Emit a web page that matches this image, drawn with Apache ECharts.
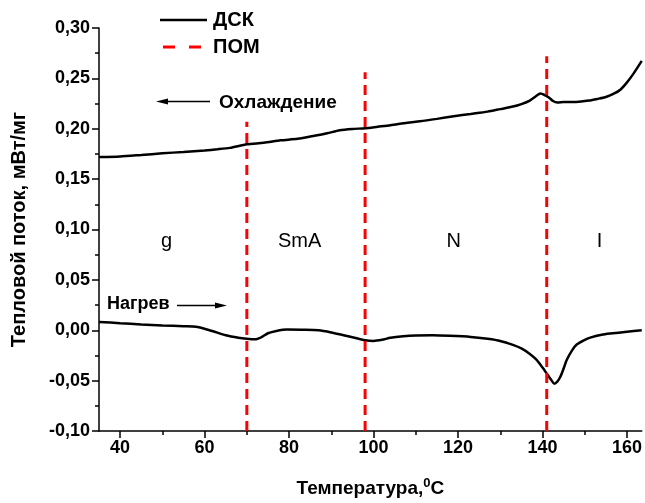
<!DOCTYPE html>
<html>
<head>
<meta charset="utf-8">
<script src="https://cdn.jsdelivr.net/npm/echarts@6/dist/echarts.min.js"></script>
<style>html,body{margin:0;padding:0;background:#fff}#c{width:645px;height:503px}</style>
</head>
<body>
<div id="c"></div>
<script>
// ---- data ----
var coolT = [35, 40, 45, 50, 55, 60, 63, 66, 70, 74, 78, 82, 86, 89, 92, 95, 98, 101, 104, 108, 111, 115, 119, 123, 127, 130, 133, 135, 137, 138.5, 139.5, 140.5, 141.5, 142.5, 143.5, 145, 148, 151, 153, 155, 157, 158.5, 160, 161.5, 163.5];
var coolQ = [0.172, 0.1725, 0.174, 0.1756, 0.177, 0.1785, 0.1796, 0.181, 0.1846, 0.186, 0.1885, 0.190, 0.193, 0.1955, 0.1985, 0.1998, 0.2005, 0.202, 0.2035, 0.206, 0.2074, 0.2098, 0.2124, 0.2147, 0.217, 0.2195, 0.222, 0.2245, 0.228, 0.2325, 0.235, 0.2335, 0.231, 0.2275, 0.226, 0.2265, 0.2266, 0.228, 0.2296, 0.2315, 0.235, 0.239, 0.246, 0.2545, 0.2674];
var heatT = [35, 40, 45, 50, 55, 58, 60, 62, 65, 68, 70, 72, 73.5, 75, 77, 79.5, 83, 87, 90, 94, 96.5, 98, 100, 102, 104, 107, 110, 114, 118, 123, 127, 130, 133, 135, 137, 138.5, 140, 141, 142, 142.8, 143.5, 144.2, 145, 145.7, 147, 148.1, 150, 151.3, 154, 156, 160, 163.5];
var heatQ = [0.0083, 0.007, 0.0058, 0.0048, 0.004, 0.0035, 0.0015, -0.001, -0.005, -0.0075, -0.0085, -0.009, -0.0068, -0.003, -0.0007, 0.0007, 0.0005, 0, -0.0022, -0.006, -0.0085, -0.010, -0.0106, -0.0095, -0.0075, -0.006, -0.0052, -0.005, -0.0055, -0.0066, -0.0085, -0.0106, -0.0145, -0.018, -0.0235, -0.029, -0.037, -0.043, -0.049, -0.053, -0.051, -0.0464, -0.038, -0.0298, -0.020, -0.0142, -0.0095, -0.0073, -0.0045, -0.0033, -0.0015, 0];
var pomT = [70, 98, 141];
var pomTop = [0.207, 0.256, 0.272];
var phaseNames = ['g', 'SmA', 'N', 'I'];
var phaseT = [51, 82.5, 119, 153.5];
var phaseQ = [0.088, 0.088, 0.088, 0.088];
var legendNames = ['ДСК', 'ПОМ'];
var xMajorTicks = [40, 60, 80, 100, 120, 140, 160];
var xMinorTicks = [50, 70, 90, 110, 130, 150];
var xMin = 35, xMax = 163.5;
var yMin = -0.10, yMax = 0.30, yStep = 0.05;

function zip(a, b) { return a.map(function (v, i) { return [v, b[i]]; }); }

var FONT = 'Arial, "Liberation Sans", sans-serif';
var chart = echarts.init(document.getElementById('c'), null, { renderer: 'canvas' });

var series = [
  { name: legendNames[0], type: 'line', data: zip(coolT, coolQ), symbol: 'none', smooth: 0.25,
    lineStyle: { color: '#000', width: 2.5 }, itemStyle: { color: '#000' }, z: 3 },
  { name: legendNames[0], type: 'line', data: zip(heatT, heatQ), symbol: 'none', smooth: 0.25,
    lineStyle: { color: '#000', width: 2.5 }, itemStyle: { color: '#000' }, z: 3 }
];
pomT.forEach(function (t, i) {
  series.push({ name: legendNames[1], type: 'line', data: [[t, yMin], [t, pomTop[i]]], symbol: 'none',
    lineStyle: { color: '#ff0000', width: 3, type: [10, 6] }, itemStyle: { color: '#ff0000' }, z: 4 });
});

chart.setOption({
  animation: false,
  backgroundColor: '#fff',
  grid: { left: 99, right: 3, top: 28, bottom: 72 },
  xAxis: [{
    type: 'value', min: xMin, max: xMax, position: 'bottom',
    name: '{b|Температура,}{s|0}{b|C}', nameLocation: 'middle', nameGap: 46,
    nameTextStyle: { rich: {
      b: { fontFamily: FONT, fontWeight: 'bold', fontSize: 19, color: '#000', verticalAlign: 'bottom' },
      s: { fontFamily: FONT, fontWeight: 'bold', fontSize: 13, color: '#000', verticalAlign: 'top', padding: [0, 0, 8, 0] }
    } },
    axisLine: { show: true, onZero: false, lineStyle: { color: '#000', width: 1.5 } },
    axisTick: { show: true, inside: false, length: 7, customValues: xMajorTicks, lineStyle: { color: '#000', width: 1.5 } },
    axisLabel: { customValues: xMajorTicks, margin: 8, fontFamily: FONT, fontWeight: 'bold', fontSize: 18, color: '#000' },
    splitLine: { show: false }
  }, {
    type: 'value', min: xMin, max: xMax, position: 'bottom',
    axisLine: { show: false, onZero: false },
    axisTick: { show: true, inside: false, length: 4, customValues: xMinorTicks, lineStyle: { color: '#000', width: 1.5 } },
    axisLabel: { show: false },
    splitLine: { show: false }
  }],
  yAxis: {
    type: 'value', min: yMin, max: yMax, interval: yStep,
    name: 'Тепловой поток, мВт/мг', nameLocation: 'middle', nameGap: 70,
    nameTextStyle: { fontFamily: FONT, fontWeight: 'bold', fontSize: 20, color: '#000' },
    axisLine: { show: true, lineStyle: { color: '#000', width: 1.5 } },
    axisTick: { show: true, inside: false, length: 7, lineStyle: { color: '#000', width: 1.5 } },
    minorTick: { show: true, splitNumber: 2, length: 4, lineStyle: { color: '#000', width: 1.5 } },
    axisLabel: { margin: 9, fontFamily: FONT, fontWeight: 'bold', fontSize: 18, color: '#000',
      formatter: function (v) { return v.toFixed(2).replace('.', ','); } },
    splitLine: { show: false }
  },
  series: series
});

// annotations
var graphics = [];
phaseNames.forEach(function (n, i) {
  var p = chart.convertToPixel({ xAxisIndex: 0, yAxisIndex: 0 }, [phaseT[i], phaseQ[i]]);
  graphics.push({ type: 'text', x: p[0], y: p[1], style: { text: n, fill: '#000',
    font: 'normal 20px ' + FONT, textAlign: 'center', textVerticalAlign: 'middle' } });
});
// legend
graphics.push({ type: 'line', shape: { x1: 160, y1: 20, x2: 207, y2: 20 }, style: { stroke: '#000', lineWidth: 2.5 } });
graphics.push({ type: 'text', x: 213, y: 20, style: { text: legendNames[0], fill: '#000',
  font: 'bold 20px ' + FONT, textAlign: 'left', textVerticalAlign: 'middle' } });
graphics.push({ type: 'line', shape: { x1: 163, y1: 47, x2: 201, y2: 47 }, style: { stroke: '#ff0000', lineWidth: 3, lineDash: [12, 14] } });
graphics.push({ type: 'text', x: 213, y: 47, style: { text: legendNames[1], fill: '#000',
  font: 'bold 20px ' + FONT, textAlign: 'left', textVerticalAlign: 'middle' } });
// Охлаждение arrow + text
graphics.push({ type: 'line', shape: { x1: 166, y1: 101.5, x2: 210, y2: 101.5 }, style: { stroke: '#000', lineWidth: 1.5 } });
graphics.push({ type: 'polygon', shape: { points: [[156, 101.5], [168, 98.5], [168, 104.5]] }, style: { fill: '#000' } });
graphics.push({ type: 'text', x: 219, y: 103, style: { text: 'Охлаждение', fill: '#000',
  font: 'bold 19px ' + FONT, textAlign: 'left', textVerticalAlign: 'middle' } });
// Нагрев arrow + text
graphics.push({ type: 'text', x: 107, y: 304, style: { text: 'Нагрев', fill: '#000',
  font: 'bold 18px ' + FONT, textAlign: 'left', textVerticalAlign: 'middle' } });
graphics.push({ type: 'line', shape: { x1: 177, y1: 305.5, x2: 215, y2: 305.5 }, style: { stroke: '#000', lineWidth: 1.5 } });
graphics.push({ type: 'polygon', shape: { points: [[227, 305.5], [215, 302.5], [215, 308.5]] }, style: { fill: '#000' } });

chart.setOption({ graphic: graphics });
</script>
</body>
</html>
